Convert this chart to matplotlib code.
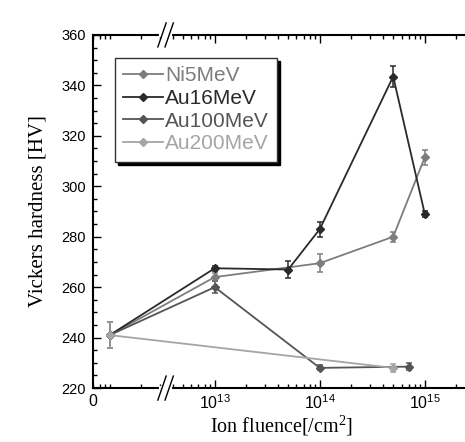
import matplotlib
matplotlib.use('Agg')
import matplotlib.pyplot as plt
from matplotlib.lines import Line2D
from matplotlib.ticker import FixedLocator, LogLocator, NullFormatter, MultipleLocator

plt.rcParams['font.family'] = ['Liberation Sans', 'DejaVu Sans']
plt.rcParams['mathtext.default'] = 'regular'

# fluence 0 is drawn at this position on the log axis (left of the break)
zero_pos = 1e12

ni5_x = [0, 1e13, 1e14, 5e14, 1e15]
ni5_y = [241, 264, 269.5, 280, 311.5]
ni5_err = [5, 1.5, 3.5, 2, 3]

au16_x = [0, 1e13, 5e13, 1e14, 5e14, 1e15]
au16_y = [241, 267.5, 267, 283, 343.5, 289]
au16_err = [5, 1, 3.5, 3, 4, 1]

au100_x = [0, 1e13, 1e14, 7e14]
au100_y = [241, 260, 228, 228.5]
au100_err = [5, 2.5, 1, 1.5]

au200_x = [0, 5e14]
au200_y = [241, 228]
au200_err = [5, 1.5]

series = [
    ('Ni5MeV', ni5_x, ni5_y, ni5_err, '#7d7d7d'),
    ('Au16MeV', au16_x, au16_y, au16_err, '#2a2a2a'),
    ('Au100MeV', au100_x, au100_y, au100_err, '#555555'),
    ('Au200MeV', au200_x, au200_y, au200_err, '#a5a5a5'),
]

xmajor = [1e13, 1e14, 1e15]
xmajor_labels = ['$10^{13}$', '$10^{14}$', '$10^{15}$']

fig = plt.figure(figsize=(4.65, 4.42), dpi=100)
ax = fig.add_axes([0.2, 0.122, 0.811, 0.799])

handles = []
for name, xs, ys, errs, col in series:
    xp = [zero_pos if v == 0 else v for v in xs]
    ax.errorbar(xp, ys, yerr=errs, color=col, marker='D', markersize=4.5,
                lw=1.3, elinewidth=1.1, capsize=2.5, capthick=1.1)
    handles.append(Line2D([], [], color=col, marker='D', markersize=4, lw=1.3, label=name))

ax.set_xscale('log')
ax.set_xlim(6.93e11, 2.7e15)
ax.set_ylim(220, 360)

ax.xaxis.set_major_locator(FixedLocator([6.93e11] + xmajor))
ax.set_xticklabels(['0'] + xmajor_labels)
ax.xaxis.set_minor_locator(LogLocator(base=10, subs=[1, 2, 3, 4, 5, 6, 7, 8, 9], numticks=20))
ax.xaxis.set_minor_formatter(NullFormatter())
ax.yaxis.set_major_locator(MultipleLocator(20))
ax.yaxis.set_minor_locator(MultipleLocator(5))

ax.tick_params(which='both', direction='in', top=True, right=False, labelsize=10.5, width=1, pad=5)
ax.tick_params(which='major', length=6)
ax.tick_params(which='minor', length=3)
ax.tick_params(axis='x', which='major', labelsize=11.5, pad=4)
ax.xaxis.get_major_ticks()[0].tick1line.set_visible(False)
ax.xaxis.get_major_ticks()[0].tick2line.set_visible(False)

for s in ['left', 'top', 'bottom']:
    ax.spines[s].set_linewidth(1.5)
ax.spines['right'].set_visible(False)

ax.set_xlabel('Ion fluence[/cm$^2$]', family='Liberation Serif', fontsize=14.5, labelpad=1)
ax.set_ylabel('Vickers hardness [HV]', family='Liberation Serif', fontsize=15, labelpad=10)

# axis break marks
bx, dx, dy, gap = 0.183, 0.011, 0.034, 0.019
for yb in [0, 1]:
    ax.plot([bx - 0.002, bx + gap + 0.002], [yb, yb], transform=ax.transAxes,
            color='white', lw=3, clip_on=False, zorder=5)
    for off in [0, gap]:
        ax.plot([bx + off - dx, bx + off + dx], [yb - dy, yb + dy], transform=ax.transAxes,
                color='black', lw=1, clip_on=False, zorder=6)

leg = ax.legend(handles=handles, loc='upper left', bbox_to_anchor=(0.058, 0.935),
                borderaxespad=0, fontsize=15, handlelength=1.9, handletextpad=0.1,
                labelspacing=0.18, borderpad=0.4, fancybox=False,
                shadow={'color': 'black', 'alpha': 1}, framealpha=1)
leg.get_frame().set_edgecolor('#333333')
leg.get_frame().set_linewidth(1)
for txt, (_, _, _, _, col) in zip(leg.get_texts(), series):
    txt.set_color(col)

fig.savefig('out.png', dpi=100)
